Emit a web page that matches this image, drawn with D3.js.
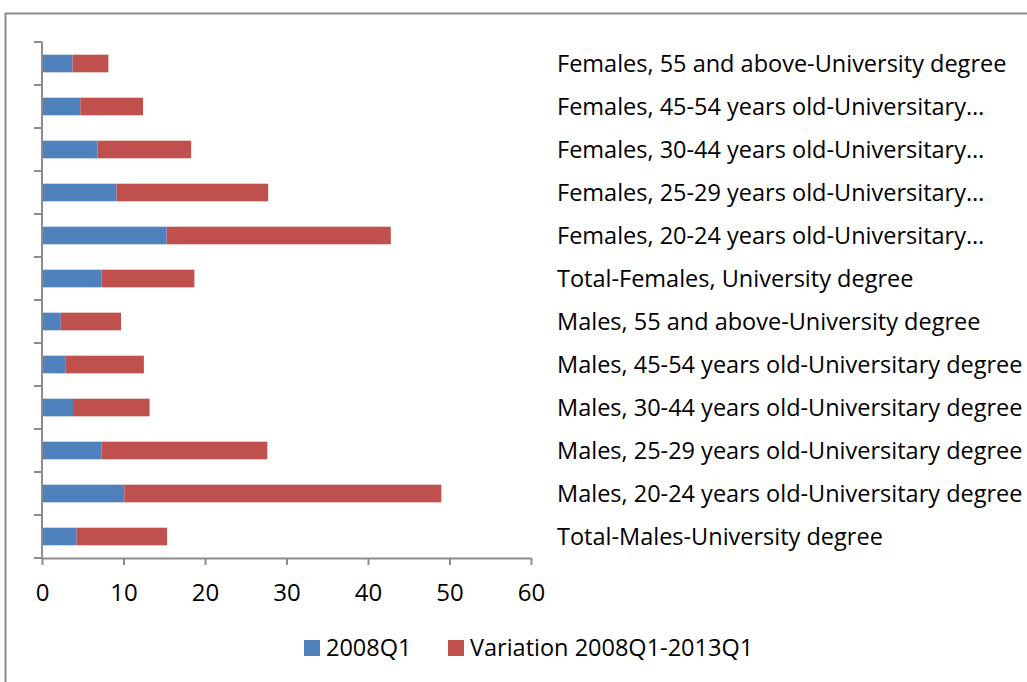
<!DOCTYPE html>
<html>
<head>
<meta charset="utf-8">
<script src="https://cdn.jsdelivr.net/npm/d3@7"></script>
<style>
  body { margin: 0; background: #fff; }
  svg { display: block; }
  text { font-family: "Open Sans", "DejaVu Sans", sans-serif; fill: #000; }
</style>
</head>
<body>
<div id="chart"></div>
<script>
// categories from top to bottom, as shown in the chart
const categories = [
    "Females, 55 and above-University degree",
    "Females, 45-54 years old-Universitary…",
    "Females, 30-44 years old-Universitary…",
    "Females, 25-29 years old-Universitary…",
    "Females, 20-24 years old-Universitary…",
    "Total-Females, University degree",
    "Males, 55 and above-University degree",
    "Males, 45-54 years old-Universitary degree",
    "Males, 30-44 years old-Universitary degree",
    "Males, 25-29 years old-Universitary degree",
    "Males, 20-24 years old-Universitary degree",
    "Total-Males-University degree"
];
const base2008 = [3.75, 4.7, 6.8, 9.15, 15.3, 7.3, 2.3, 2.85, 3.8, 7.3, 10.1, 4.25];
const variation = [4.4, 7.7, 11.5, 18.6, 27.5, 11.4, 7.4, 9.65, 9.4, 20.35, 38.9, 11.1];
const seriesNames = ["2008Q1", "Variation 2008Q1-2013Q1"];
const xTicks = [0, 10, 20, 30, 40, 50, 60];

const W = 1027, H = 682;
const plot = { left: 42, right: 531, top: 42, bottom: 558 };
const fontSize = "23.5px";

const svg = d3.select("#chart")
              .append("svg")
              .attr("width", W)
              .attr("height", H);

// outer frame (cut by the page edge on the right and bottom)
svg.append("rect")
    .attr("x", 5.5)
    .attr("y", 13.5)
    .attr("width", W + 20)
    .attr("height", H + 20)
    .attr("fill", "none")
    .attr("stroke", "#8c8c8c")
    .attr("stroke-width", 2);

const rows = categories.map((c, i) => ({ cat: c, a: base2008[i], b: variation[i] }));
const stackData = d3.stack().keys(["a", "b"])(rows);

const x = d3.scaleLinear()
            .domain([0, 60])
            .range([plot.left, plot.right]);

const y = d3.scaleBand()
            .domain(categories)
            .range([plot.top, plot.bottom])
            .paddingInner(0.59)
            .paddingOuter(0.295);

const color = d3.scaleOrdinal()
                .domain(["a", "b"])
                .range(["#4F81BD", "#C0504D"]);

svg.selectAll(".series")
    .data(stackData)
    .enter().append("g")
    .attr("fill", d => color(d.key))
    .selectAll("rect")
    .data(d => d)
    .enter().append("rect")
    .attr("x", d => x(d[0]))
    .attr("y", d => y(d.data.cat))
    .attr("width", d => x(d[1]) - x(d[0]))
    .attr("height", y.bandwidth());

// x axis
const xAxis = svg.append("g")
    .attr("transform", `translate(0,${plot.bottom})`)
    .call(d3.axisBottom(x).tickValues(xTicks).tickSize(7).tickSizeOuter(0).tickPadding(19));
xAxis.selectAll("path, line").attr("stroke", "#8c8c8c").attr("stroke-width", 2);
xAxis.selectAll("text").style("font-size", "24px").attr("font-family", null);

// y axis: line plus ticks between categories
const gap = y.step() * y.paddingInner() / 2;
const boundaries = categories.map(c => y(c) - gap).concat([plot.bottom]);
svg.append("line")
    .attr("x1", plot.left).attr("x2", plot.left)
    .attr("y1", plot.top).attr("y2", plot.bottom)
    .attr("stroke", "#8c8c8c").attr("stroke-width", 2);
svg.selectAll(".ytick")
    .data(boundaries)
    .enter().append("line")
    .attr("x1", plot.left - 8).attr("x2", plot.left)
    .attr("y1", d => d).attr("y2", d => d)
    .attr("stroke", "#8c8c8c").attr("stroke-width", 2);

// category labels on the right side
svg.selectAll(".cat")
    .data(categories)
    .enter().append("text")
    .attr("x", 557)
    .attr("y", d => y(d) + y.bandwidth() / 2)
    .attr("dy", "0.35em")
    .style("font-size", fontSize)
    .text(d => d);

// legend
const legendX = [304, 448];
const legend = svg.selectAll(".legend")
    .data(seriesNames)
    .enter().append("g")
    .attr("transform", (d, i) => `translate(${legendX[i]}, 648)`);
legend.append("rect")
    .attr("x", 0).attr("y", -8)
    .attr("width", 16).attr("height", 16)
    .attr("fill", (d, i) => color(["a", "b"][i]));
legend.append("text")
    .attr("x", 22)
    .attr("dy", "0.35em")
    .style("font-size", fontSize)
    .text(d => d);
</script>
</body>
</html>
